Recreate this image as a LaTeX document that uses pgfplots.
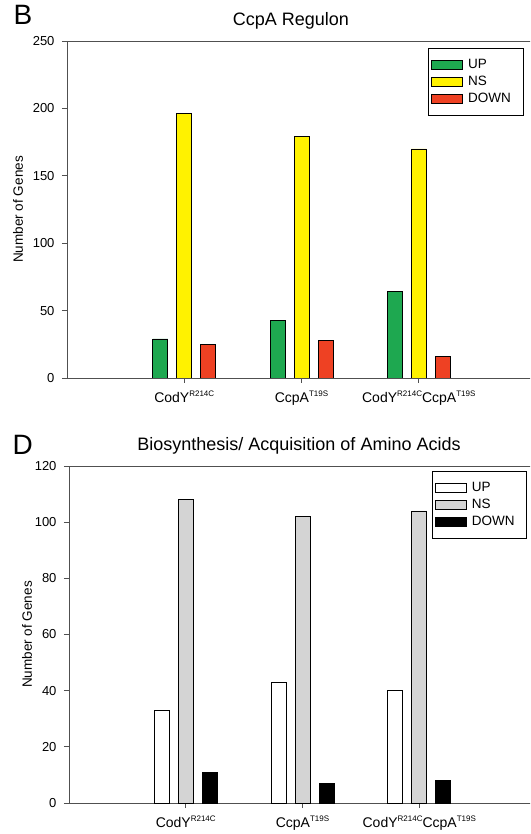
\documentclass[border=0pt]{standalone}
\usepackage{fontspec}
\setmainfont{Liberation Sans}
\usepackage{pgfplots}
\pgfplotsset{compat=1.18}

\definecolor{cgreen}{RGB}{30,168,80}
\definecolor{cyellow}{RGB}{255,242,0}
\definecolor{cred}{RGB}{238,65,35}
\definecolor{cgray}{RGB}{212,212,212}
\definecolor{axgray}{RGB}{80,80,80}
\newcommand\sups[1]{\raisebox{0.45em}{\fontsize{8}{8}\selectfont #1}}

\pgfplotsset{
  mystyle/.style={
    scale only axis, anchor=south west,
    xmin=0, xmax=4,
    axis x line=bottom, axis y line=left,
    axis line style={axgray, line width=0.9pt, -},
    tick style={axgray, line width=0.9pt},
    tick align=outside, major tick length=5pt,
    xtick={1,2,3},
    xticklabels={CodY\sups{R214C}, CcpA\sups{T19S}, CodY\sups{R214C}CcpA\sups{T19S}},
    xticklabel style={font=\fontsize{14}{16}\selectfont, yshift=-4pt},
    yticklabel style={font=\fontsize{13}{15}\selectfont, xshift=-4pt},
    /pgf/number format/assume math mode=true,
    ylabel={Number of Genes},
    ylabel style={font=\fontsize{13.5}{15}\selectfont, anchor=center, rotate=0},
    legend cell align=left,
    legend style={draw=black, line width=0.6pt, anchor=north west,
      font=\fontsize{13.5}{15}\selectfont,
      inner xsep=3pt, inner ysep=8pt,
      nodes={inner xsep=5pt, inner ysep=2.75pt, text height=9pt, text depth=2.5pt}},
  },
  mybar/.style={ybar, bar width=15pt, draw=black, line width=0.6pt,
    legend image code/.code={\draw[##1] (0pt,-4.5pt) rectangle (31pt,4.5pt);}},
}

\begin{document}
\begin{tikzpicture}
\useasboundingbox (0pt,0pt) rectangle (530pt,834pt);
\clip (0pt,0pt) rectangle (530pt,834pt);

% Panel B
\node[font=\fontsize{28}{30}\selectfont, anchor=base west] at (10pt,809pt) {B};
\node[font=\fontsize{18}{20}\selectfont, anchor=base] at (291pt,808pt) {CcpA Regulon};
\begin{axis}[mystyle, at={(67pt,456pt)}, width=469pt, height=337pt,
  ymin=0, ymax=250, ytick={0,50,100,150,200,250},
  ylabel style={at={(axis description cs:-0.1045,0.5)}},
  legend style={at={(axis description cs:0.770,0.979)}}]
\addplot[mybar, fill=cgreen, bar shift=-24pt] coordinates {(1,29) (2,43) (3,64)};
\addplot[mybar, fill=cyellow, bar shift=0pt] coordinates {(1,196) (2,179) (3,170)};
\addplot[mybar, fill=cred, bar shift=24pt] coordinates {(1,25) (2,28) (3,16)};
\legend{\makebox[47pt][l]{UP}, NS, DOWN}
\draw[axgray, line width=0.9pt] (rel axis cs:0,1) -- (rel axis cs:1,1);
\end{axis}

% Panel D
\node[font=\fontsize{28}{30}\selectfont, anchor=base west] at (9pt,379pt) {D};
\node[font=\fontsize{18}{20}\selectfont, anchor=base] at (299pt,383pt) {Biosynthesis/ Acquisition of Amino Acids};
\begin{axis}[mystyle, at={(69pt,31pt)}, width=467pt, height=337pt,
  ymin=0, ymax=120, ytick={0,20,40,60,80,100,120},
  ylabel style={at={(axis description cs:-0.09,0.5)}},
  legend style={at={(axis description cs:0.777,0.985)}}]
\addplot[mybar, fill=white, bar shift=-24pt] coordinates {(1,33) (2,43) (3,40)};
\addplot[mybar, fill=cgray, bar shift=0pt] coordinates {(1,108) (2,102) (3,104)};
\addplot[mybar, fill=black, bar shift=24pt] coordinates {(1,11) (2,7) (3,8)};
\legend{\makebox[47pt][l]{UP}, NS, DOWN}
\draw[axgray, line width=0.9pt] (rel axis cs:0,1) -- (rel axis cs:1,1);
\end{axis}
\end{tikzpicture}
\end{document}
